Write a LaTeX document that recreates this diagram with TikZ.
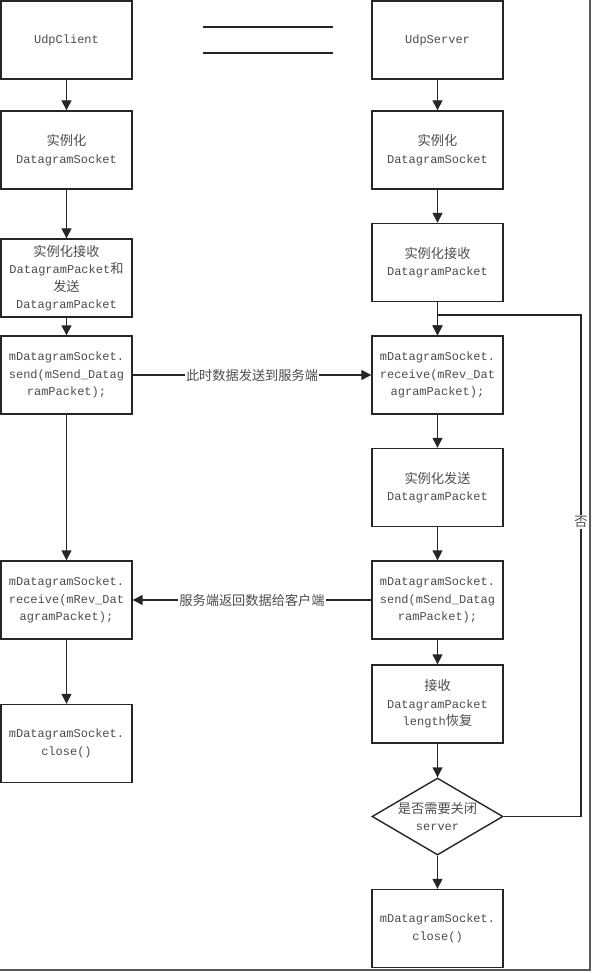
\documentclass[tikz,border=0pt]{standalone}
\usepackage{fontspec}
\setmainfont{Liberation Mono}
\newfontfamily\cjk[Scale=1.1]{Noto Sans CJK SC}
\newcommand{\zhs}[1]{{\cjk #1}}
\usetikzlibrary{arrows.meta,shapes.geometric}
\tikzset{
  flowbox/.style={draw=black!85, line width=1.4pt, minimum width=131pt, minimum height=78pt,
    inner sep=0pt, align=center, text=black!70, font=\fontsize{12}{17.5}\selectfont},
  decision/.style={diamond, draw=black!85, line width=1.4pt, aspect=1.7, inner sep=0pt,
    minimum width=131pt, minimum height=77pt, align=center, text=black!70,
    font=\fontsize{12}{17.5}\selectfont},
  flow/.style={draw=black!85, line width=1.4pt, -{Triangle[length=10pt,width=10pt]}},
  msg/.style={fill=white, text=black!70, inner sep=1pt, font=\fontsize{12}{14}\selectfont}
}

\begin{document}
\begin{tikzpicture}[x=1pt,y=-1pt]
      \useasboundingbox (0,0) rectangle (594,973);
      \draw[black!65, line width=1.8pt] (590,0) -- (590,970) -- (0,970);
      %%%%%%%%%%%%%%%%%%%%%%%%%%%%%%%%%%%%%%%%%%%%%%%
      \node[flowbox] at (66.5,40)    (client) {UdpClient};
      \node[flowbox] at (66.5,150)   (csock)  {\zhs{实例化}\\DatagramSocket};
      \node[flowbox] at (66.5,278)   (cpack)  {\zhs{实例化接收}\\DatagramPacket\zhs{和}\\\zhs{发送}\\DatagramPacket};
      \node[flowbox] at (66.5,375)   (csend)  {mDatagramSocket.\\send(mSend\_Datag\\ramPacket);};
      \node[flowbox] at (66.5,600)   (crecv)  {mDatagramSocket.\\receive(mRev\_Dat\\agramPacket);};
      \node[flowbox] at (66.5,743.5) (cclose) {mDatagramSocket.\\close()};
      \draw[flow] (client) -- (csock);
      \draw[flow] (csock) -- (cpack);
      \draw[flow] (cpack) -- (csend);
      \draw[flow] (csend) -- (crecv);
      \draw[flow] (crecv) -- (cclose);
      %%%%%%%%%%%%%%%%%%%%%%%%%%%%%%%%%%%%%%%%%%%%%%%
      \draw[black!85, line width=1.4pt] (203,27) -- (333,27)
            (203,53) -- (333,53);
      %%%%%%%%%%%%%%%%%%%%%%%%%%%%%%%%%%%%%%%%%%%%%%%
      \node[flowbox] at (437.5,40)    (server) {UdpServer};
      \node[flowbox] at (437.5,150)   (ssock)  {\zhs{实例化}\\DatagramSocket};
      \node[flowbox] at (437.5,262.5) (spack)  {\zhs{实例化接收}\\DatagramPacket};
      \node[flowbox] at (437.5,375)   (srecv)  {mDatagramSocket.\\receive(mRev\_Dat\\agramPacket);};
      \node[flowbox] at (437.5,487.5) (sout)   {\zhs{实例化发送}\\DatagramPacket};
      \node[flowbox] at (437.5,600)   (ssend)  {mDatagramSocket.\\send(mSend\_Datag\\ramPacket);};
      \node[flowbox] at (437.5,704)   (slen)   {\zhs{接收}\\DatagramPacket\\length\zhs{恢复}};
      \node[decision] at (437.5,816.5) (ask)   {\zhs{是否需要关闭}\\server};
      \node[flowbox] at (437.5,928.5) (sclose) {mDatagramSocket.\\close()};
      \draw[flow] (server) -- (ssock);
      \draw[flow] (ssock) -- (spack);
      \draw[flow] (spack) -- (srecv);
      \draw[flow] (srecv) -- (sout);
      \draw[flow] (sout) -- (ssend);
      \draw[flow] (ssend) -- (slen);
      \draw[flow] (slen) -- (ask);
      \draw[flow] (ask) -- (sclose);
      %%%%%%%%%%%%%%%%%%%%%%%%%%%%%%%%%%%%%%%%%%%%%%%
      \coordinate (back) at (581,315);
      \draw[flow] (ask.east) -| (back) -| (srecv.north);
      \node[msg] at (581,522) (no) {\zhs{否}};
      %%%%%%%%%%%%%%%%%%%%%%%%%%%%%%%%%%%%%%%%%%%%%%%
      \draw[flow] (csend) -- node[msg] (tosrv) {\zhs{此时数据发送到服务端}} (srecv);
      \draw[flow] (ssend) -- node[msg] (tocli) {\zhs{服务端返回数据给客户端}} (crecv);
\end{tikzpicture}
\end{document}
